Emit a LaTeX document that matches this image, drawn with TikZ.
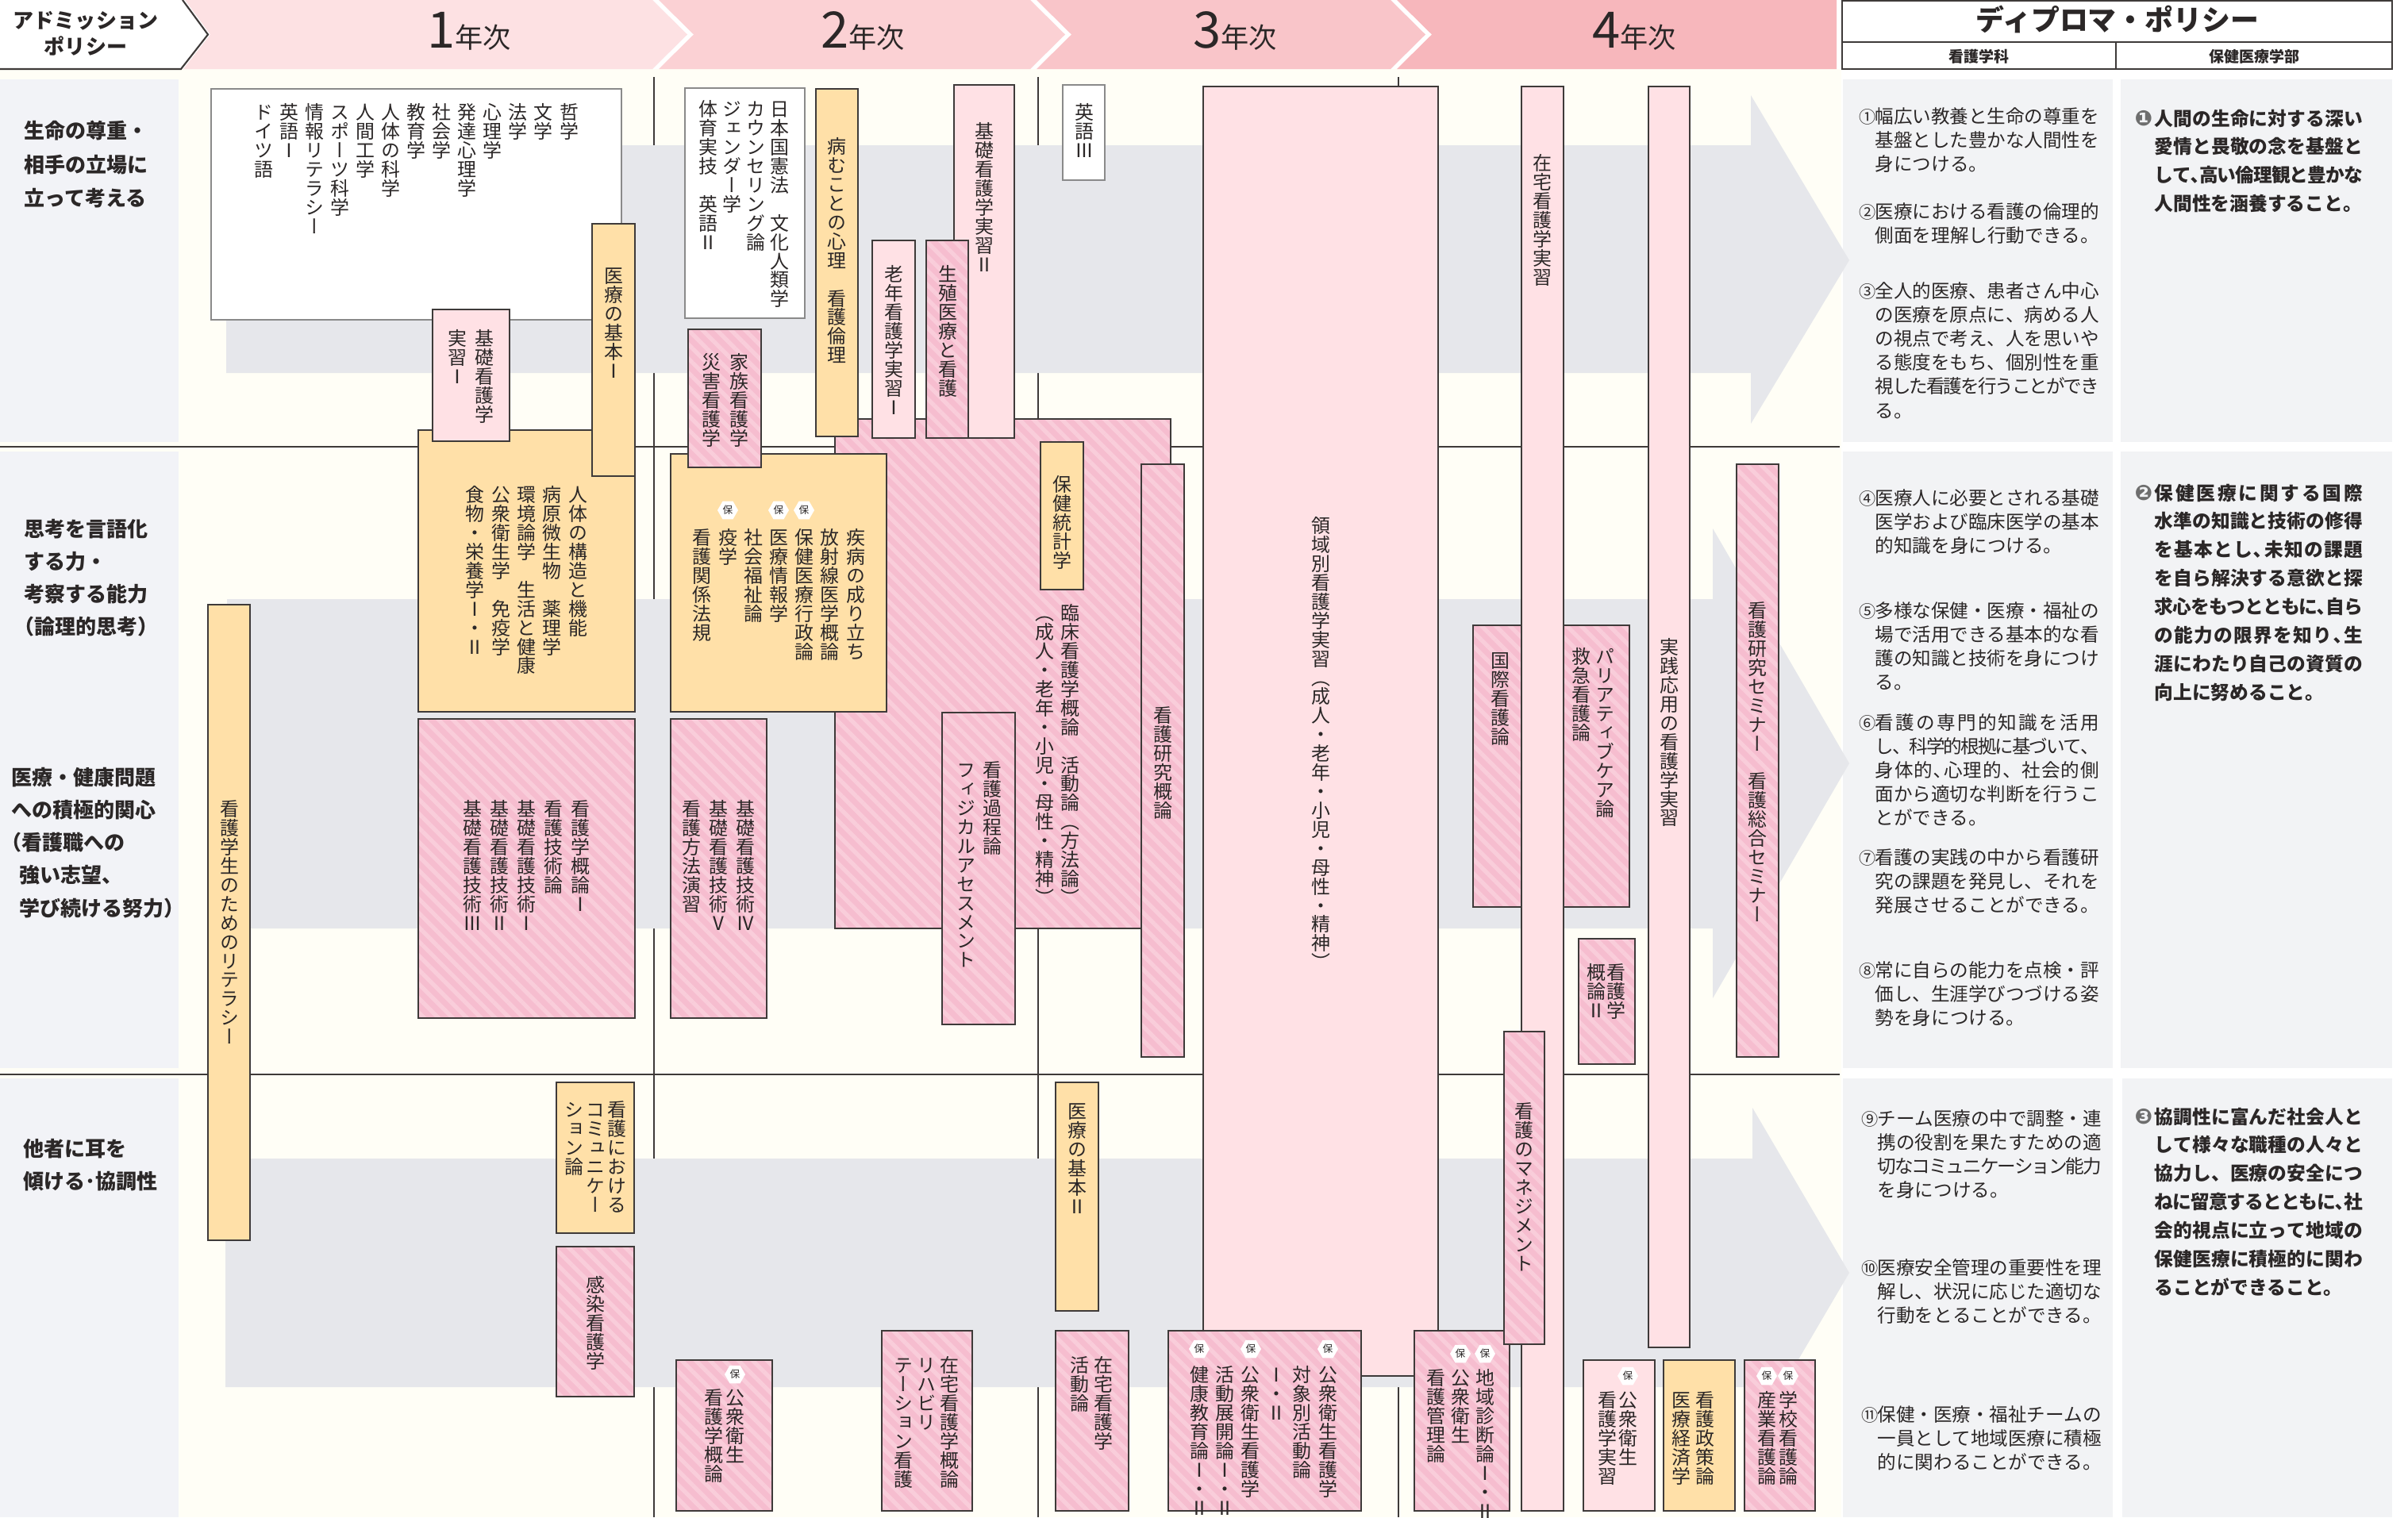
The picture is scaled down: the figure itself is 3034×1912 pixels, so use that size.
\documentclass[tikz,border=0pt]{standalone}
\usepackage{fontspec}
\usepackage{graphicx}
\setmainfont{Noto Sans CJK JP}
\newfontfamily\vjp[RawFeature=+vert]{Noto Sans CJK JP}
\newfontfamily\djv{DejaVu Sans}
\usetikzlibrary{shapes.geometric,patterns.meta}

\definecolor{cream}{HTML}{FFFEF6}
\definecolor{lpanel}{HTML}{F2F3F7}
\definecolor{agray}{HTML}{E6E7EB}
\definecolor{orng}{HTML}{FFE0A8}
\definecolor{lpink}{HTML}{FFE1E5}
\definecolor{hpink}{HTML}{F6BDCF}
\definecolor{hstripe}{HTML}{F9CDDA}
\definecolor{yr1}{HTML}{FDE1E3}
\definecolor{yr2}{HTML}{FBD1D4}
\definecolor{yr3}{HTML}{F9C5C9}
\definecolor{yr4}{HTML}{F7B7BC}
\definecolor{bord}{HTML}{3E3A39}
\definecolor{wbord}{HTML}{8A8A8A}
\definecolor{txt}{HTML}{2B2727}
\definecolor{mgray}{HTML}{6E6E6E}
\definecolor{dpp}{HTML}{F2F3F5}

\newdimen\pxu \pxu=0.28453pt
\newdimen\dpw

% vertical text
\def\vtend{\vtend}
\newcommand\vtchar[1]{\hbox to 1em{\vrule height .88em depth .12em width 0pt\hss#1\hss}}
\def\vtloop#1{\ifx#1\vtend\else\vtchar{#1}\expandafter\vtloop\fi}
\newcommand\vcol[1]{\vtop{\baselineskip=1em\lineskiplimit=-100pt\lineskip=0pt\vtloop#1\vtend}}
\newcommand\VT[5]{%
  \foreach \vv [count=\i from 0] in {#5}{%
    \node[vt,anchor=north] (#1-\i) at ({#2-\i*#4},#3) {\expandafter\vcol\expandafter{\vv}};
  }}

% spread lines
\def\sprfirst#1{#1\sprloop}
\def\sprloop#1{\ifx#1\vtend\else\hskip0pt plus1fil minus.12em\relax#1\expandafter\sprloop\fi}
\newcommand\DL[1]{\hbox to \dpw{\sprfirst#1\vtend}}
\newcommand\DE[1]{\hbox{#1}}
\newcommand\DPI[5]{\node[dpt,anchor=base west] (#1) at (#2,#3) {\dpw=282\pxu\hbox{\makebox[19\pxu]{\scalebox{.9}{#4}}\vtop{\baselineskip=30.2\pxu\lineskiplimit=-100pt\lineskip=0pt #5}}};}
\newcommand\DPR[5]{\node[dpr,anchor=base west] (#1) at (#2,#3) {\dpw=262\pxu\hbox{\hbox to 25\pxu{{\djv\fontsize{7.6}{8}\selectfont\color{mgray}#4}\hss}\vtop{\baselineskip=35.9\pxu\lineskiplimit=-100pt\lineskip=0pt #5}}};}

\begin{document}
\begin{tikzpicture}[x=0.01cm,y=-0.01cm,
  wbox/.style={fill=white, draw=wbord, line width=0.45pt},
  obox/.style={fill=orng, draw=bord, line width=0.45pt},
  pbox/.style={fill=lpink, draw=bord, line width=0.45pt},
  hatchbox/.style={fill=hpink, postaction={pattern={Lines[angle=-45,distance=3.6pt,line width=1.5pt]}, pattern color=hstripe}, postaction={draw=bord, line width=0.45pt}},
  vt/.style={inner sep=0pt, text=txt, font=\vjp\fontsize{6.8}{6.8}\selectfont},
  hexb/.style={regular polygon, regular polygon sides=6, fill=white, minimum size=7.4pt, inner sep=0pt, text=txt, font=\fontsize{3.6}{3.6}\selectfont},
  dpt/.style={inner sep=0pt, text=txt, font=\fontsize{6.7}{8.6}\selectfont},
  dpr/.style={inner sep=0pt, text=txt, font=\bfseries\fontsize{6.75}{10}\selectfont},
  lbl/.style={inner sep=0pt, text=txt, font=\bfseries\fontsize{7.4}{12}\selectfont},
  yrlbl/.style={anchor=base, inner sep=0pt, text=txt, font=\fontsize{10}{10}\selectfont},
  divline/.style={draw=bord, line width=0.45pt}]
\useasboundingbox (0,0) rectangle (3034,1912);
\fill[white] (0,0) rectangle (3034,1912);
\fill[cream] (0,87) rectangle (2320,1912);

% header
\fill[yr1] (233,0) -- (822,0) -- (866,43.5) -- (822,87) -- (231,87) -- (265,43.5) -- cycle;
\fill[yr2] (830,0) -- (1298,0) -- (1342,43.5) -- (1298,87) -- (830,87) -- (874,43.5) -- cycle;
\fill[yr3] (1306,0) -- (1752,0) -- (1796,43.5) -- (1752,87) -- (1306,87) -- (1350,43.5) -- cycle;
\fill[yr4] (1760,0) -- (2314,0) -- (2314,87) -- (1760,87) -- (1804,43.5) -- cycle;
\draw[bord, line width=0.6pt] (0,87) -- (228,87) -- (262,43.5) -- (230,0);
\node[font=\bfseries\fontsize{7.4}{9.4}\selectfont, text=txt, align=center, inner sep=0pt] (adm) at (108,42) {アドミッション\\ポリシー};
\node[yrlbl] (y1) at (591,60) {{\fontsize{18}{18}\selectfont 1}年次};
\node[yrlbl] (y2) at (1087,60) {{\fontsize{18}{18}\selectfont 2}年次};
\node[yrlbl] (y3) at (1556,60) {{\fontsize{18}{18}\selectfont 3}年次};
\node[yrlbl] (y4) at (2059,60) {{\fontsize{18}{18}\selectfont 4}年次};

% diploma header
\draw[bord, line width=0.6pt, fill=white] (2321,1) rectangle (3014,87);
\draw[bord, line width=0.5pt] (2321,53) -- (3014,53) (2666,53) -- (2666,87);
\node[anchor=base, inner sep=0pt, text=txt, font=\bfseries\fontsize{10.2}{10}\selectfont] (dpt) at (2668,38) {ディプロマ・ポリシー};
\node[anchor=base, inner sep=0pt, text=txt, font=\bfseries\fontsize{5.4}{6}\selectfont] (dps1) at (2493,78) {看護学科};
\node[anchor=base, inner sep=0pt, text=txt, font=\bfseries\fontsize{5.4}{6}\selectfont] (dps2) at (2840,78) {保健医療学部};

% panels
\fill[lpanel] (0,100) rectangle (225,557);
\fill[lpanel] (0,569) rectangle (225,1346);
\fill[lpanel] (0,1359) rectangle (225,1912);
\fill[dpp] (2322,100) rectangle (2662,557);
\fill[dpp] (2672,100) rectangle (3014,557);
\fill[dpp] (2322,569) rectangle (2662,1346);
\fill[dpp] (2672,569) rectangle (3014,1346);
\fill[dpp] (2322,1359) rectangle (2662,1912);
\fill[dpp] (2674,1359) rectangle (3014,1912);

% divider lines
\draw[divline] (0,563) -- (2318,563);
\draw[divline] (0,1354) -- (2318,1354);
\draw[divline] (824,97) -- (824,1912);
\draw[divline] (1308,97) -- (1308,1912);
\draw[divline] (1762,97) -- (1762,1912);

% gray arrows
\fill[agray] (285,183) -- (2206,183) -- (2206,120) -- (2330,328) -- (2206,534) -- (2206,470) -- (285,470) -- cycle;
\fill[agray] (286,755) -- (2158,755) -- (2158,666) -- (2330,962) -- (2158,1258) -- (2158,1170) -- (286,1170) -- cycle;
\fill[agray] (284,1460) -- (2208,1460) -- (2208,1396) -- (2330,1604) -- (2208,1812) -- (2208,1748) -- (284,1748) -- cycle;

% ---- boxes 1st year
\draw[wbox] (266,112) rectangle (783,403);
\draw[obox] (527,542) rectangle (800,897);
\draw[hatchbox] (527,906) rectangle (800,1283);
\draw[pbox] (545,390) rectangle (642,556);
\draw[obox] (746,282) rectangle (800,600);
\draw[obox] (262,762) rectangle (315,1563);
\draw[obox] (701,1364) rectangle (799,1554);
\draw[hatchbox] (701,1571) rectangle (799,1760);
% ---- 2nd year
\draw[wbox] (863,111) rectangle (1014,401);
\draw[hatchbox] (1052,528) rectangle (1475,1170);
\draw[obox] (845,572) rectangle (1117,897);
\draw[hatchbox] (867,415) rectangle (959,589);
\draw[obox] (1028,112) rectangle (1081,550);
\draw[pbox] (1202,107) rectangle (1278,552);
\draw[pbox] (1099,303) rectangle (1153,552);
\draw[hatchbox] (1167,303) rectangle (1220,552);
\draw[hatchbox] (845,906) rectangle (966,1283);
\draw[hatchbox] (1187,898) rectangle (1279,1291);
\draw[obox] (1311,557) rectangle (1365,743);
\draw[hatchbox] (1438,585) rectangle (1492,1332);
\draw[hatchbox] (852,1714) rectangle (973,1904);
\draw[hatchbox] (1111,1677) rectangle (1225,1904);
% ---- 3rd year
\draw[wbox] (1339,107) rectangle (1392,227);
\draw[pbox] (1516,109) rectangle (1812,1734);
\draw[obox] (1330,1364) rectangle (1384,1652);
\draw[hatchbox] (1330,1677) rectangle (1422,1904);
\draw[hatchbox] (1472,1677) rectangle (1715,1904);
% ---- 4th year
\draw[hatchbox] (1856,788) rectangle (2053,1143);
\draw[pbox] (1917,109) rectangle (1970,1904);
\draw[pbox] (2077,109) rectangle (2129,1698);
\draw[hatchbox] (1989,1183) rectangle (2060,1341);
\draw[hatchbox] (2188,585) rectangle (2241,1332);
\draw[hatchbox] (1782,1677) rectangle (1902,1904);
\draw[hatchbox] (1895,1300) rectangle (1946,1694);
\draw[pbox] (1995,1714) rectangle (2085,1904);
\draw[obox] (2096,1714) rectangle (2186,1904);
\draw[hatchbox] (2198,1714) rectangle (2287,1904);

% hexagon badges
\node[hexb] (b1) at (917,643) {保};
\node[hexb] (b2) at (981,643) {保};
\node[hexb] (b3) at (1013,643) {保};
\node[hexb] (b4) at (926,1732) {保};
\node[hexb] (b5) at (1673,1700) {保};
\node[hexb] (b6) at (1576,1700) {保};
\node[hexb] (b7) at (1511,1700) {保};
\node[hexb] (b8) at (1871,1706) {保};
\node[hexb] (b9) at (1840,1706) {保};
\node[hexb] (b10) at (2051,1734) {保};
\node[hexb] (b11) at (2253,1734) {保};
\node[hexb] (b12) at (2226,1734) {保};

% ---- vertical texts
\VT{w1}{717}{129}{32.08}{哲学,文学,法学,心理学,発達心理学,社会学,教育学,人体の科学,人間工学,スポーツ科学,情報リテラシー,英語Ⅰ,ドイツ語}
\VT{o2}{728}{611}{32.3}{人体の構造と機能,病原微生物　薬理学,環境論学　生活と健康,公衆衛生学　免疫学,食物・栄養学Ⅰ・Ⅱ}
\VT{p1}{610}{414}{34}{基礎看護学,実習Ⅰ}
\VT{o1}{773}{335}{0}{医療の基本Ⅰ}
\VT{h1}{731}{1007}{34}{看護学概論Ⅰ,看護技術論,基礎看護技術Ⅰ,基礎看護技術Ⅱ,基礎看護技術Ⅲ}
\VT{l1}{289}{1007}{0}{看護学生のためのリテラシー}
\VT{c1}{777}{1386}{27}{看護における,コミュニケー,ション論}
\VT{k1}{750}{1607}{0}{感染看護学}
\VT{w2}{982}{125}{29.7}{日本国憲法　文化人類学,カウンセリング論,ジェンダー学,体育実技　英語Ⅱ}
\VT{h2}{931}{444}{35}{家族看護学,災害看護学}
\VT{o3}{1054}{172}{0}{病むことの心理　看護倫理}
\VT{p2}{1126}{333}{0}{老年看護学実習Ⅰ}
\VT{h3}{1194}{333}{0}{生殖医療と看護}
\VT{p3}{1240}{153}{0}{基礎看護学実習Ⅱ}
\VT{o4}{1078}{665}{32.2}{疾病の成り立ち,放射線医学概論,保健医療行政論,医療情報学,社会福祉論,疫学,看護関係法規}
\VT{h4}{939}{1007}{34}{基礎看護技術Ⅳ,基礎看護技術Ⅴ,看護方法演習}
\VT{h5}{1348}{760}{32}{臨床看護学概論　活動論（方法論）,（成人・老年・小児・母性・精神）}
\VT{h6}{1250}{958}{33}{看護過程論,フィジカルアセスメント}
\VT{o5}{1338}{598}{0}{保健統計学}
\VT{h7}{1465}{889}{0}{看護研究概論}
\VT{h8}{926}{1749}{27}{公衆衛生,看護学概論}
\VT{h9}{1196}{1708}{29}{在宅看護学概論,リハビリ,テーション看護}
\VT{w3}{1366}{129}{0}{英語Ⅲ}
\VT{p4}{1664}{650}{0}{領域別看護学実習（成人・老年・小児・母性・精神）}
\VT{o6}{1357}{1388}{0}{医療の基本Ⅱ}
\VT{h10}{1390}{1708}{30}{在宅看護学,活動論}
\VT{h11}{1673}{1720}{32.4}{公衆衛生看護学,対象別活動論,Ⅰ・Ⅱ,公衆衛生看護学,活動展開論Ⅰ・Ⅱ,健康教育論Ⅰ・Ⅱ}
\VT{p5}{1943}{193}{0}{在宅看護学実習}
\VT{p6}{2103}{803}{0}{実践応用の看護学実習}
\VT{h12}{1890}{820}{0}{国際看護論}
\VT{h13}{2022}{815}{30}{パリアティブケア論,救急看護論}
\VT{h14}{2036}{1213}{25}{看護学,概論Ⅱ}
\VT{h15}{2214}{757}{0}{看護研究セミナー　看護総合セミナー}
\VT{h16}{1920}{1388}{0}{看護のマネジメント}
\VT{h17}{1871}{1724}{31}{地域診断論Ⅰ・Ⅱ,公衆衛生,看護管理論}
\VT{p7}{2051}{1752}{26}{公衆衛生,看護学実習}
\VT{o7}{2148}{1752}{30}{看護政策論,医療経済学}
\VT{h18}{2253}{1752}{27}{学校看護論,産業看護論}

% ---- admission labels
\node[lbl,anchor=base west] (a1) at (30,174.5) {\vtop{\baselineskip=42.5\pxu\lineskiplimit=-100pt\hbox{生命の尊重・}\hbox{相手の立場に}\hbox{立って考える}}};
\node[lbl,anchor=base west] (a2) at (30,676) {\vtop{\baselineskip=41.3\pxu\lineskiplimit=-100pt\hbox{思考を言語化}\hbox{する力・}\hbox{考察する能力}\hbox{\kern-13\pxu（論理的思考）}}};
\node[lbl,anchor=base west] (a3) at (14,989) {\vtop{\baselineskip=41.3\pxu\lineskiplimit=-100pt\hbox{医療・健康問題}\hbox{への積極的関心}\hbox{\kern-13\pxu（看護職への}\hbox{\kern10\pxu 強い志望、}\hbox{\kern10\pxu 学び続ける努力）}}};
\node[lbl,anchor=base west] (a4) at (29,1457.5) {\vtop{\baselineskip=41\pxu\lineskiplimit=-100pt\hbox{他者に耳を}\hbox{傾ける･協調性}}};

% ---- diploma texts
\DPI{d1}{2343}{155}{①}{\DL{幅広い教養と生命の尊重を}\DL{基盤とした豊かな人間性を}\DE{身につける。}}
\DPI{d2}{2343}{275}{②}{\DL{医療における看護の倫理的}\DE{側面を理解し行動できる。}}
\DPI{d3}{2343}{375}{③}{\DL{全人的医療、患者さん中心}\DL{の医療を原点に、病める人}\DL{の視点で考え、人を思いや}\DL{る態度をもち、個別性を重}\DL{視した看護を行うことができ}\DE{る。}}
\DPI{d4}{2343}{636}{④}{\DL{医療人に必要とされる基礎}\DL{医学および臨床医学の基本}\DE{的知識を身につける。}}
\DPI{d5}{2343}{778}{⑤}{\DL{多様な保健・医療・福祉の}\DL{場で活用できる基本的な看}\DL{護の知識と技術を身につけ}\DE{る。}}
\DPI{d6}{2343}{919}{⑥}{\DL{看護の専門的知識を活用}\DL{し、科学的根拠に基づいて、}\DL{身体的､心理的、社会的側}\DL{面から適切な判断を行うこ}\DE{とができる。}}
\DPI{d7}{2343}{1089}{⑦}{\DL{看護の実践の中から看護研}\DL{究の課題を発見し、それを}\DE{発展させることができる。}}
\DPI{d8}{2343}{1231}{⑧}{\DL{常に自らの能力を点検・評}\DL{価し、生涯学びつづける姿}\DE{勢を身につける。}}
\DPI{d9}{2346}{1418}{⑨}{\DL{チーム医療の中で調整・連}\DL{携の役割を果たすための適}\DL{切なコミュニケーション能力}\DE{を身につける。}}
\DPI{d10}{2346}{1606}{⑩}{\DL{医療安全管理の重要性を理}\DL{解し、状況に応じた適切な}\DE{行動をとることができる。}}
\DPI{d11}{2346}{1791}{⑪}{\DL{保健・医療・福祉チームの}\DL{一員として地域医療に積極}\DE{的に関わることができる。}}
\DPR{e1}{2689}{158}{❶}{\DL{人間の生命に対する深い}\DL{愛情と畏敬の念を基盤と}\DL{して､高い倫理観と豊かな}\DE{人間性を涵養すること。}}
\DPR{e2}{2689}{630}{❷}{\DL{保健医療に関する国際}\DL{水準の知識と技術の修得}\DL{を基本とし､未知の課題}\DL{を自ら解決する意欲と探}\DL{求心をもつとともに､自ら}\DL{の能力の限界を知り､生}\DL{涯にわたり自己の資質の}\DE{向上に努めること。}}
\DPR{e3}{2689}{1416}{❸}{\DL{協調性に富んだ社会人と}\DL{して様々な職種の人々と}\DL{協力し、医療の安全につ}\DL{ねに留意するとともに､社}\DL{会的視点に立って地域の}\DL{保健医療に積極的に関わ}\DE{ることができること。}}
\end{tikzpicture}
\end{document}
